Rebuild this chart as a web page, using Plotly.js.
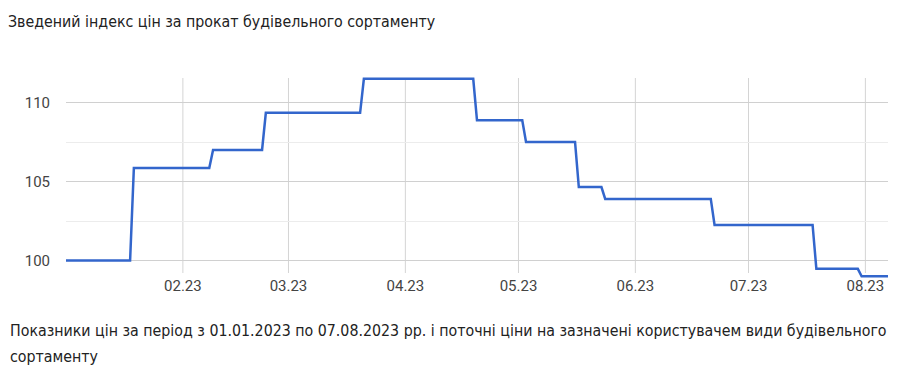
<!DOCTYPE html>
<html>
<head>
<meta charset="utf-8">
<script src="https://cdn.plot.ly/plotly-3.0.1.min.js"></script>
<style>
  html, body { margin: 0; padding: 0; background: #fff; }
  #chart { width: 900px; height: 374px; }
</style>
</head>
<body>
<div id="chart"></div>
<script>
// Зведений індекс цін: точки зміни індексу (дата, значення)
const dates = [
  '2023-01-01', '2023-01-18', '2023-01-19',
  '2023-02-08', '2023-02-09',
  '2023-02-22', '2023-02-23',
  '2023-03-20', '2023-03-21',
  '2023-04-19', '2023-04-20',
  '2023-05-02', '2023-05-03',
  '2023-05-16', '2023-05-17',
  '2023-05-23', '2023-05-24',
  '2023-06-21', '2023-06-22',
  '2023-07-18', '2023-07-19',
  '2023-07-30', '2023-07-31',
  '2023-08-07'
];
const indexValues = [
  100.0, 100.0, 105.85,
  105.85, 107.0,
  107.0, 109.35,
  109.35, 111.5,
  111.5, 108.87,
  108.87, 107.5,
  107.5, 104.65,
  104.65, 103.9,
  103.9, 102.25,
  102.25, 99.47,
  99.47, 99.0,
  99.0
];

// Підписи осей
const monthTicks = ['2023-02-01', '2023-03-01', '2023-04-01', '2023-05-01', '2023-06-01', '2023-07-01', '2023-08-01'];
const monthLabels = ['02.23', '03.23', '04.23', '05.23', '06.23', '07.23', '08.23'];
const yTicks = [100, 105, 110];
const yLabels = ['100', '105', '110'];

const titleText = 'Зведений індекс цін за прокат будівельного сортаменту';
const captionLine1 = 'Показники цін за період з 01.01.2023 по 07.08.2023 рр. і поточні ціни на зазначені користувачем види будівельного';
const captionLine2 = 'сортаменту';

const textFont = '"DejaVu Sans Condensed", "Liberation Sans Narrow", Roboto, sans-serif';
const tickFont = 'Roboto, Arial, "Liberation Sans", sans-serif';

const H = 374, W = 900;
const M = { l: 66, r: 12, t: 63, b: 74 };
const plotH = H - M.t - M.b;
const plotW = W - M.l - M.r;
const plotBottom = H - M.b;

// вертикальні лінії сітки по місяцях (коротші за висоту області графіка)
const monthLines = monthTicks.map(d => ({
  type: 'line', xref: 'x', yref: 'paper',
  x0: d, x1: d,
  y0: (plotBottom - 273) / plotH,
  y1: (plotBottom - 78) / plotH,
  line: { color: '#d4d4d4', width: 1 },
  layer: 'below'
}));

const trace = {
  x: dates,
  y: indexValues,
  type: 'scatter',
  mode: 'lines',
  line: { color: '#3366cc', width: 2.5 },
  hoverinfo: 'x+y'
};

const captionFont = { family: textFont, size: 15.8, color: '#222222' };
const axisFont = { family: tickFont, size: 15, color: '#444444' };

const layout = {
  width: W, height: H,
  margin: M,
  paper_bgcolor: '#ffffff',
  plot_bgcolor: '#ffffff',
  showlegend: false,
  title: {
    text: titleText,
    x: 8 / W, xref: 'container', xanchor: 'left',
    y: 1 - 21 / H, yref: 'container', yanchor: 'middle',
    font: { family: textFont, size: 15.8, color: '#222222' }
  },
  xaxis: {
    type: 'date',
    range: ['2023-01-01', '2023-08-07'],
    tickmode: 'array',
    tickvals: monthTicks,
    ticktext: monthLabels,
    showgrid: false,
    zeroline: false,
    showline: false,
    ticks: '',
    ticklabelposition: 'inside',
    ticklabelstandoff: 3,
    tickfont: axisFont,
    fixedrange: true
  },
  yaxis: {
    range: [97.5, 112.5],
    tickmode: 'array',
    tickvals: yTicks,
    ticktext: yLabels,
    showgrid: true,
    gridcolor: '#d0d0d0',
    gridwidth: 1,
    zeroline: false,
    showline: false,
    ticks: '',
    ticklabelstandoff: 15,
    tickfont: axisFont,
    minor: {
      tick0: 97.5, dtick: 2.5,
      showgrid: true, gridcolor: '#ececec', gridwidth: 1,
      ticks: ''
    },
    fixedrange: true
  },
  shapes: monthLines,
  annotations: [
    {
      text: captionLine1, showarrow: false,
      xref: 'paper', yref: 'paper',
      x: (8 - M.l) / plotW, xanchor: 'left',
      y: (plotBottom - 330) / plotH, yanchor: 'middle',
      align: 'left',
      font: captionFont
    },
    {
      text: captionLine2, showarrow: false,
      xref: 'paper', yref: 'paper',
      x: (8 - M.l) / plotW, xanchor: 'left',
      y: (plotBottom - 356) / plotH, yanchor: 'middle',
      align: 'left',
      font: captionFont
    }
  ]
};

Plotly.newPlot('chart', [trace], layout, { displayModeBar: false, staticPlot: true });
</script>
</body>
</html>
